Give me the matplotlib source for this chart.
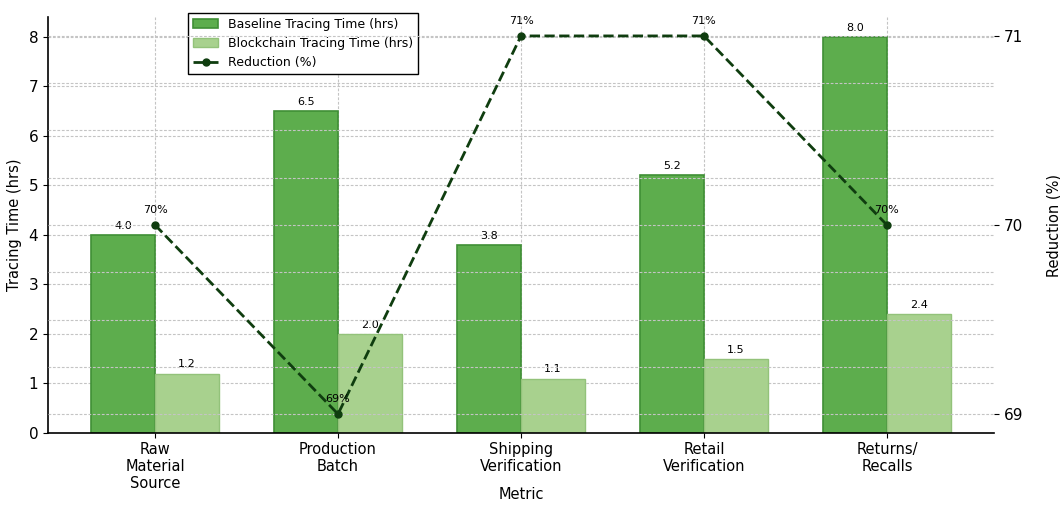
import numpy as np
import matplotlib
matplotlib.use("Agg")
import matplotlib.pyplot as plt
from matplotlib.ticker import MultipleLocator

categories = ["Raw\nMaterial\nSource", "Production\nBatch", "Shipping\nVerification",
              "Retail\nVerification", "Returns/\nRecalls"]
baseline = [4.0, 6.5, 3.8, 5.2, 8.0]
blockchain = [1.2, 2.0, 1.1, 1.5, 2.4]
reduction = [70, 69, 71, 71, 70]

plt.rcParams['font.family'] = ['DejaVu Sans']
fig = plt.figure(figsize=(10.6, 5.05), dpi=100)
ax = fig.add_axes([0.0453, 0.1426, 0.8924, 0.8237])

grid_kw = dict(linestyle=(0, (2.5, 1.5)), color='#c4c4c4', linewidth=0.8)

x = np.arange(len(categories))
w = 0.35
b1 = ax.bar(x - w/2, baseline, w, color='#5dad4d', edgecolor='#3f8f35', linewidth=1.2,
            label='Baseline Tracing Time (hrs)', zorder=2)
b2 = ax.bar(x + w/2, blockchain, w, color='#a8d18e', edgecolor='#93c27a', linewidth=1.0,
            label='Blockchain Tracing Time (hrs)', zorder=2)
for rect, v in zip(b1, baseline):
    ax.annotate(f"{v:.1f}", (rect.get_x() + rect.get_width()/2, rect.get_height()),
                xytext=(0, 3), textcoords='offset points', ha='center', va='bottom', fontsize=8)
for rect, v in zip(b2, blockchain):
    ax.annotate(f"{v:.1f}", (rect.get_x() + rect.get_width()/2, rect.get_height()),
                xytext=(0, 3), textcoords='offset points', ha='center', va='bottom', fontsize=8)

ax.set_ylim(0, 8.4)
ax.set_xticks(x)
ax.set_xticklabels(categories, fontsize=10.5, linespacing=1.15)
ax.tick_params(axis='x', pad=3)
ax.tick_params(axis='y', labelsize=11)
ax.set_xlabel('Metric', fontsize=10.5)
ax.xaxis.set_label_coords(0.5, -0.13)
ax.set_ylabel('Tracing Time (hrs)', fontsize=10.5, labelpad=5)
ax.grid(True, **grid_kw, zorder=0)
ax.set_axisbelow(True)
for s in ['top', 'right']:
    ax.spines[s].set_visible(False)
ax.spines['left'].set_linewidth(1.2)
ax.spines['bottom'].set_linewidth(1.2)

ax2 = ax.twinx()
ln, = ax2.plot(x, reduction, color='#0f3d0f', linestyle='--', linewidth=2, marker='o',
               markersize=5, label='Reduction (%)', zorder=3)
for xi, v in zip(x, reduction):
    ax2.annotate(f"{v}%", (xi, v), xytext=(0, 7), textcoords='offset points',
                 ha='center', va='bottom', fontsize=8)
ax2.set_ylim(68.9, 71.1)
ax2.yaxis.set_major_locator(MultipleLocator(1))
ax2.yaxis.set_minor_locator(MultipleLocator(0.25))
ax2.tick_params(axis='y', which='minor', length=0)
ax2.tick_params(axis='y', labelsize=11)
ax2.grid(True, which='both', axis='y', **grid_kw)
ax2.set_ylabel('Reduction (%)', fontsize=10.5, labelpad=17)
for s in ['top', 'right', 'left', 'bottom']:
    ax2.spines[s].set_visible(False)

handles = [b1, b2, ln]
leg = ax.legend(handles=handles, labels=[h.get_label() for h in handles],
                loc='upper left', bbox_to_anchor=(0.148, 1.01), borderaxespad=0,
                fontsize=9, fancybox=False, edgecolor='black', framealpha=1)
leg.set_zorder(10)

fig.savefig('out.png', dpi=100)
